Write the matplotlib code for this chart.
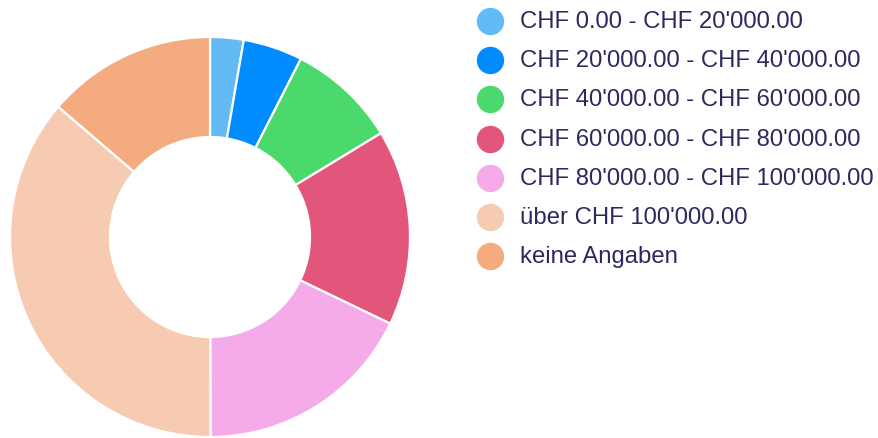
import matplotlib.pyplot as plt
from matplotlib import font_manager
from matplotlib.lines import Line2D

# income brackets and their share (percent)
labels = ["CHF 0.00 - CHF 20'000.00", "CHF 20'000.00 - CHF 40'000.00",
          "CHF 40'000.00 - CHF 60'000.00", "CHF 60'000.00 - CHF 80'000.00",
          "CHF 80'000.00 - CHF 100'000.00", "über CHF 100'000.00", "keine Angaben"]
shares = [2.7, 4.8, 8.8, 15.8, 17.8, 36.3, 13.7]
colors = ["#63bbf5", "#008cff", "#4cd96c", "#e3567c", "#f5aaea", "#f7cbb1", "#f4ab7f"]

# pick a narrow font if it is there
try:
    font_manager.findfont("Liberation Sans Narrow", fallback_to_default=False)
    font = "Liberation Sans Narrow"
    fsize = 20.5
except Exception:
    font = "Liberation Sans"
    fsize = 17.2

W, H = 879, 439
fig = plt.figure(figsize=(W / 100, H / 100), dpi=100)

# donut: centre (210, 238) px, radius 200 px
ax = fig.add_axes([10 / W, 1 / H, 400 / W, 400 / H])
ax.pie(shares, colors=colors, startangle=90, counterclock=False, radius=1,
       wedgeprops=dict(width=0.5, edgecolor="white", linewidth=1.6))
ax.set_xlim(-1, 1)
ax.set_ylim(-1, 1)
ax.set_aspect("equal")
ax.axis("off")

# legend on the right
for i, (lab, col) in enumerate(zip(labels, colors)):
    y = 1 - (22 + i * 39.2) / H
    fig.add_artist(Line2D([490 / W], [y], marker="o", markersize=18.7, color=col,
                          linestyle="none", transform=fig.transFigure))
    fig.text(520 / W, y, lab, fontsize=fsize, family=font, color="#2b2a5c",
             va="center", ha="left")

fig.savefig("out.png", dpi=100)
